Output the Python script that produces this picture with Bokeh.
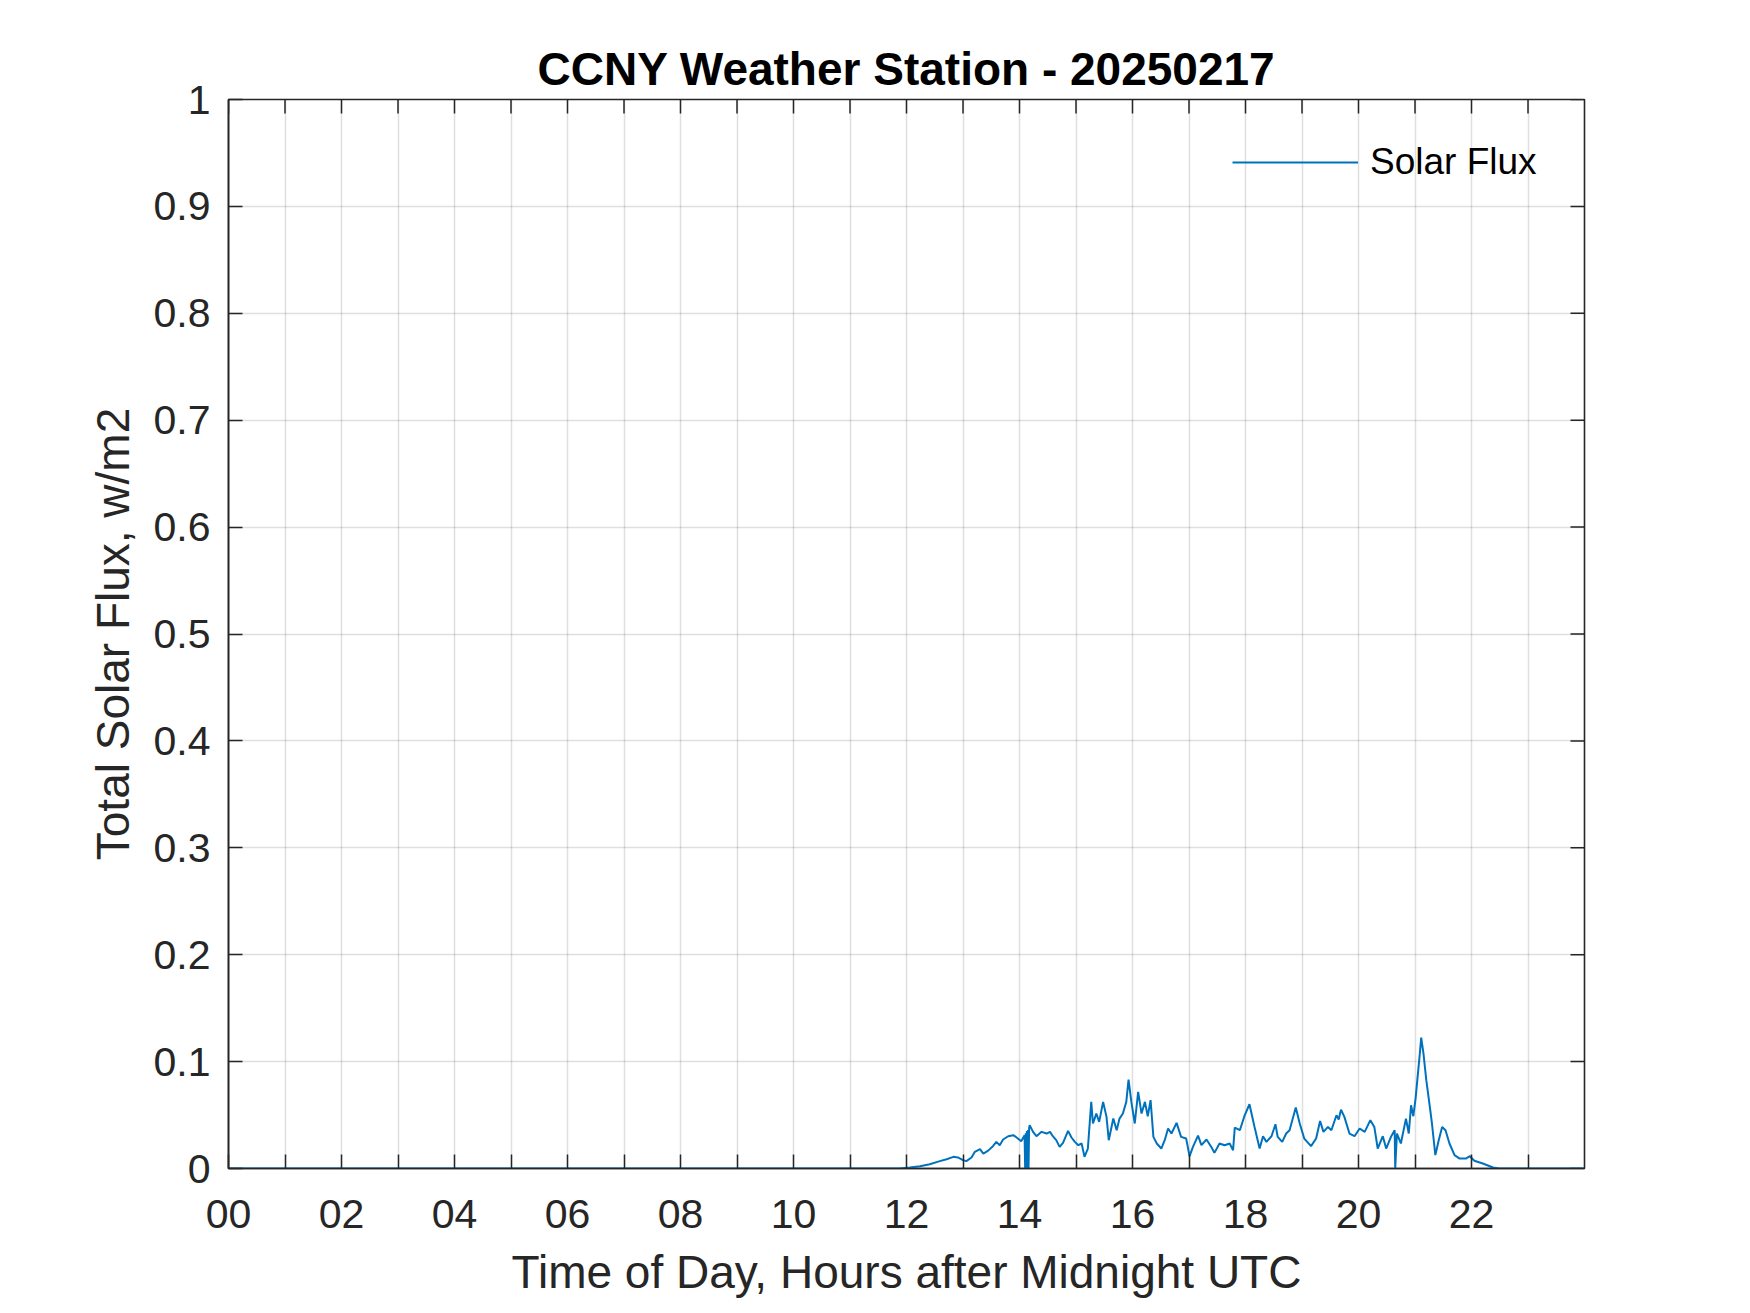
from bokeh.plotting import figure
from bokeh.models import Range1d, FixedTicker, Legend, LegendItem
from bokeh.embed import file_html
from bokeh.resources import INLINE

# ---- data (hours after midnight UTC, total solar flux) ----
hours = [
    0.0, 11.88, 12.06, 12.24, 12.41, 12.59, 12.71, 12.83, 12.91, 13.00,
    13.06, 13.15, 13.21, 13.30, 13.36, 13.44, 13.53, 13.59, 13.65, 13.71,
    13.80, 13.89, 13.95, 14.03, 14.09, 14.10, 14.11, 14.12, 14.13, 14.14,
    14.15, 14.16, 14.17, 14.18, 14.24, 14.30, 14.39, 14.48, 14.54, 14.59,
    14.65, 14.71, 14.77, 14.86, 14.92, 14.98, 15.04, 15.10, 15.15, 15.21,
    15.27, 15.30, 15.36, 15.41, 15.48, 15.54, 15.58, 15.66, 15.72, 15.77,
    15.83, 15.89, 15.93, 15.98, 16.04, 16.10, 16.16, 16.22, 16.27, 16.32,
    16.37, 16.43, 16.51, 16.57, 16.63, 16.69, 16.78, 16.86, 16.95, 17.01,
    17.07, 17.16, 17.22, 17.31, 17.40, 17.45, 17.54, 17.63, 17.72, 17.78,
    17.81, 17.90, 17.98, 18.07, 18.16, 18.25, 18.31, 18.37, 18.46, 18.53,
    18.57, 18.65, 18.72, 18.78, 18.89, 18.96, 19.04, 19.16, 19.25, 19.32,
    19.38, 19.46, 19.52, 19.61, 19.65, 19.69, 19.75, 19.84, 19.93, 20.02,
    20.11, 20.21, 20.28, 20.34, 20.43, 20.49, 20.58, 20.64, 20.65, 20.68,
    20.75, 20.84, 20.89, 20.93, 20.97, 21.01, 21.08, 21.11, 21.15, 21.20,
    21.27, 21.30, 21.36, 21.42, 21.48, 21.54, 21.61, 21.70, 21.79, 21.90,
    21.97, 22.05, 22.20, 22.38, 22.49, 23.98,
]
flux = [
    0.0, 0.0, 0.0009, 0.0022, 0.0040, 0.0069, 0.0087, 0.0109, 0.0103, 0.0078,
    0.0069, 0.0103, 0.0156, 0.0181, 0.0140, 0.0165, 0.0209, 0.0249, 0.0218, 0.0271,
    0.0302, 0.0312, 0.0290, 0.0255, 0.031, 0.0, 0.033, 0.0, 0.035, 0.0,
    0.036, 0.0, 0.038, 0.0405, 0.0343, 0.0302, 0.0343, 0.0327, 0.0343, 0.0302,
    0.0265, 0.0202, 0.0240, 0.0352, 0.0290, 0.0249, 0.0218, 0.0234, 0.0109, 0.0187,
    0.0623, 0.0421, 0.0514, 0.0436, 0.0623, 0.0483, 0.0265, 0.0467, 0.0358, 0.0467,
    0.0514, 0.0623, 0.0832, 0.0623, 0.0421, 0.0717, 0.0514, 0.0623, 0.0489, 0.0639,
    0.0296, 0.0234, 0.0187, 0.0265, 0.0374, 0.0327, 0.0427, 0.0296, 0.0280, 0.0115,
    0.0202, 0.0308, 0.0218, 0.0271, 0.0196, 0.0146, 0.0234, 0.0218, 0.0234, 0.0171,
    0.0383, 0.0358, 0.0489, 0.0601, 0.0389, 0.0187, 0.0302, 0.0249, 0.0302, 0.0414,
    0.0296, 0.0249, 0.0327, 0.0358, 0.0570, 0.0421, 0.0280, 0.0209, 0.0280, 0.0445,
    0.0343, 0.0389, 0.0358, 0.0498, 0.0458, 0.0551, 0.0483, 0.0327, 0.0302, 0.0374,
    0.0343, 0.0452, 0.0389, 0.0187, 0.0302, 0.0187, 0.0302, 0.0358, 0.0, 0.0327,
    0.0234, 0.0467, 0.0327, 0.0592, 0.0489, 0.0654, 0.1044, 0.1224, 0.1075, 0.0826,
    0.0545, 0.0421, 0.0125, 0.0265, 0.0389, 0.0358, 0.0234, 0.0125, 0.0093, 0.0093,
    0.0115, 0.0072, 0.0047, 0.0009, 0.0, 0.0,
]

x_ticks = list(range(24))
x_tick_labels = ["%02d" % h if h % 2 == 0 else "" for h in x_ticks]
y_ticks = [0, 0.1, 0.2, 0.3, 0.4, 0.5, 0.6, 0.7, 0.8, 0.9, 1.0]
y_tick_labels = ["0", "0.1", "0.2", "0.3", "0.4", "0.5", "0.6", "0.7", "0.8", "0.9", "1"]
x_min, x_max = 0, 24
y_min, y_max = 0, 1

title_text = "CCNY Weather Station - 20250217"
x_label = "Time of Day, Hours after Midnight UTC"
y_label = "Total Solar Flux, w/m2"
series_name = "Solar Flux"

FONT = "Liberation Sans"
AX = "#262626"
TICK_LEN = 14

p = figure(
    frame_width=1356, frame_height=1069,
    x_range=Range1d(x_min, x_max), y_range=Range1d(y_min, y_max),
    output_backend="svg", toolbar_location=None,
    min_border_left=228, min_border_right=150,
    min_border_top=99, min_border_bottom=137,
    background_fill_color="white", border_fill_color="white",
)
# box around the axes (top / right edges)
p.outline_line_color = AX
p.outline_line_width = 1.6

p.title.text = title_text
p.title.align = "center"
p.title.text_font = FONT
p.title.text_font_size = "46px"
p.title.text_font_style = "bold"
p.title.text_color = "black"
p.title.standoff = 9

xax = p.xaxis[0]
yax = p.yaxis[0]
xax.ticker = FixedTicker(ticks=x_ticks)
yax.ticker = FixedTicker(ticks=y_ticks)
xax.major_label_overrides = {t: lab for t, lab in zip(x_ticks, x_tick_labels)}
yax.major_label_overrides = {t: lab for t, lab in zip(y_ticks, y_tick_labels)}
for ax in (xax, yax):
    ax.axis_line_color = AX
    ax.axis_line_width = 1.6
    ax.major_tick_line_color = AX
    ax.major_tick_line_width = 1.5
    ax.major_tick_in = TICK_LEN
    ax.major_tick_out = 0
    ax.minor_tick_line_color = None
    ax.major_label_text_font = FONT
    ax.major_label_text_color = AX
    ax.major_label_text_font_size = "41px"
    ax.axis_label_text_font = FONT
    ax.axis_label_text_font_size = "46px"
    ax.axis_label_text_font_style = "normal"
    ax.axis_label_text_color = AX
xax.major_label_standoff = 31
yax.major_label_standoff = 18
xax.axis_label = x_label
yax.axis_label = y_label
xax.axis_label_standoff = 15
yax.axis_label_standoff = 12

# mirrored inward ticks on the top and right edges of the box
p.ray(x=x_ticks, y=[y_max] * len(x_ticks), length=TICK_LEN, length_units="screen",
      angle=-90, angle_units="deg", line_color=AX, line_width=1.5)
p.ray(x=[x_max] * len(y_ticks), y=y_ticks, length=TICK_LEN, length_units="screen",
      angle=180, angle_units="deg", line_color=AX, line_width=1.5)

p.xgrid.ticker = FixedTicker(ticks=x_ticks)
p.ygrid.ticker = FixedTicker(ticks=y_ticks)
for g in (p.xgrid, p.ygrid):
    g.grid_line_color = AX
    g.grid_line_alpha = 0.15
    g.grid_line_width = 1.5

r = p.line(hours, flux, line_color="#0072BD", line_width=2.0)

legend = Legend(
    items=[LegendItem(label=series_name, renderers=[r])],
    location=(1004, 984),
    orientation="vertical",
    padding=0, margin=0, spacing=0,
    glyph_width=126, glyph_height=44, label_height=44,
    label_standoff=12,
    label_text_font=FONT, label_text_font_size="37px", label_text_color="black",
    background_fill_alpha=0, border_line_alpha=0,
)
p.add_layout(legend)

open("out.html", "w").write(file_html(p, INLINE))
